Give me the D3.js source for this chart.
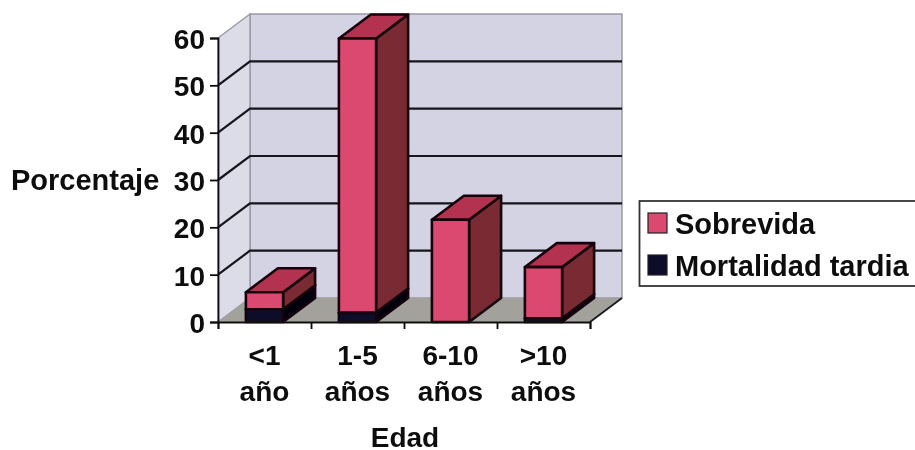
<!DOCTYPE html>
<html>
<head>
<meta charset="utf-8">
<script src="https://cdn.jsdelivr.net/npm/d3@7"></script>
<style>
body { margin: 0; background: #fff; }
text { font-family: "Liberation Sans", Arial, sans-serif; font-weight: bold; fill: #111; }
</style>
</head>
<body>
<svg id="chart" width="915" height="450"></svg>
<script>
const categories = ["<1 año", "1-5 años", "6-10 años", ">10 años"];
const mortalidad = [2.7, 2, 0, 0.8];
const sobrevida = [3.6, 57.9, 21.6, 10.8];
const yTicks = [0, 10, 20, 30, 40, 50, 60];
const seriesNames = ["Sobrevida", "Mortalidad tardia"];

const DEPTH_X = 32;
const DEPTH_Y = -24;

const svg = d3.select("#chart");
const soft = svg.append("defs").append("filter").attr("id", "soft");
soft.append("feGaussianBlur").attr("stdDeviation", 0.5);

const x = d3.scaleBand().domain(categories).range([218, 590]).paddingInner(0.6).paddingOuter(0.3);
const xEdges = d3.scaleLinear().domain([0, categories.length]).range([218, 590]);
const y = d3.scaleLinear().domain([0, 60]).range([322, 38]);

const root = svg.append("g").attr("filter", "url(#soft)");
const g = root.append("g");

function poly(points, fill, stroke, width) {
    return g.append("polygon")
        .attr("points", points.map(p => p.join(",")).join(" "))
        .attr("fill", fill)
        .attr("stroke", stroke)
        .attr("stroke-width", width)
        .attr("stroke-linejoin", "round");
}

const x0 = xEdges(0), x1 = xEdges(categories.length);
const y0 = y(0), yTop = y(60);

// back wall, side wall, floor
poly([[x0 + DEPTH_X, yTop + DEPTH_Y], [x1 + DEPTH_X, yTop + DEPTH_Y], [x1 + DEPTH_X, y0 + DEPTH_Y], [x0 + DEPTH_X, y0 + DEPTH_Y]], "#d3d3e4", "#9a9aa4", 1.5);
poly([[x0, yTop], [x0 + DEPTH_X, yTop + DEPTH_Y], [x0 + DEPTH_X, y0 + DEPTH_Y], [x0, y0]], "#dcdce9", "#9a9aa4", 1.5);
poly([[x0, y0], [x0 + DEPTH_X, y0 + DEPTH_Y], [x1 + DEPTH_X, y0 + DEPTH_Y], [x1, y0]], "#a2a19c", "none", 0);

// gridlines along side wall and back wall
yTicks.filter(t => t > 0 && t < 60).forEach(function (t) {
    g.append("polyline")
        .attr("points", [[x0, y(t)], [x0 + DEPTH_X, y(t) + DEPTH_Y], [x1 + DEPTH_X, y(t) + DEPTH_Y]].map(p => p.join(",")).join(" "))
        .attr("fill", "none")
        .attr("stroke", "#15151c")
        .attr("stroke-width", 2.2);
});

// floor front-right diagonal
g.append("line")
    .attr("x1", x1).attr("y1", y0)
    .attr("x2", x1 + DEPTH_X).attr("y2", y0 + DEPTH_Y)
    .attr("stroke", "#1a1a22").attr("stroke-width", 1.8);

function drawSegment(cat, from, to, colors) {
    const left = x(cat), right = left + x.bandwidth();
    const bottom = y(from), top = y(to);
    poly([[right, bottom], [right + DEPTH_X, bottom + DEPTH_Y], [right + DEPTH_X, top + DEPTH_Y], [right, top]], colors.side, "#14060c", 2.6);
    poly([[left, top], [left + DEPTH_X, top + DEPTH_Y], [right + DEPTH_X, top + DEPTH_Y], [right, top]], colors.top, "#14060c", 2.6);
    poly([[left, bottom], [right, bottom], [right, top], [left, top]], colors.front, "#14060c", 2.6);
}

const sobColors = { front: "#dc4870", top: "#b2324f", side: "#7a2a30" };
const morColors = { front: "#0e0e2c", top: "#0e0e2c", side: "#050508" };

categories.forEach(function (cat, i) {
    if (mortalidad[i] > 0) drawSegment(cat, 0, mortalidad[i], morColors);
    drawSegment(cat, mortalidad[i], mortalidad[i] + sobrevida[i], sobColors);
});

// axes
const yAxis = d3.axisLeft(y).tickValues(yTicks).tickSize(8).tickPadding(5);
const yAxisG = root.append("g").attr("transform", "translate(" + x0 + ",0)").call(yAxis);
yAxisG.selectAll("text").style("font-size", "28px").attr("dy", "0.38em").attr("font-family", null);
yAxisG.selectAll("line, path").attr("stroke", "#111").attr("stroke-width", 1.8);

const xAxis = d3.axisBottom(xEdges).ticks(categories.length).tickSize(7).tickFormat("");
const xAxisG = root.append("g").attr("transform", "translate(0," + y0 + ")").call(xAxis);
xAxisG.selectAll("line, path").attr("stroke", "#111").attr("stroke-width", 1.8);

// category labels on two lines
categories.forEach(function (cat) {
    const parts = cat.split(" ");
    const cx = x(cat) + x.bandwidth() / 2;
    parts.forEach(function (part, k) {
        root.append("text")
            .attr("x", cx).attr("y", 365 + k * 36)
            .attr("text-anchor", "middle")
            .style("font-size", "28px")
            .text(part);
    });
});

root.append("text").attr("x", 405).attr("y", 447).attr("text-anchor", "middle").style("font-size", "28px").text("Edad");
root.append("text").attr("x", 11).attr("y", 190).style("font-size", "29px").text("Porcentaje");

// legend
root.append("rect").attr("x", 639.5).attr("y", 201).attr("width", 280).attr("height", 85)
    .attr("fill", "#fff").attr("stroke", "#333").attr("stroke-width", 1.8);
const legendColors = [sobColors.front, morColors.front];
seriesNames.forEach(function (name, i) {
    const ly = 213 + i * 42;
    root.append("rect").attr("x", 648).attr("y", ly).attr("width", 19).attr("height", 20)
        .attr("fill", legendColors[i]).attr("stroke", "#222").attr("stroke-width", 1.2);
    root.append("text").attr("x", 675).attr("y", ly + 21).style("font-size", "29px").text(name);
});
</script>
</body>
</html>
